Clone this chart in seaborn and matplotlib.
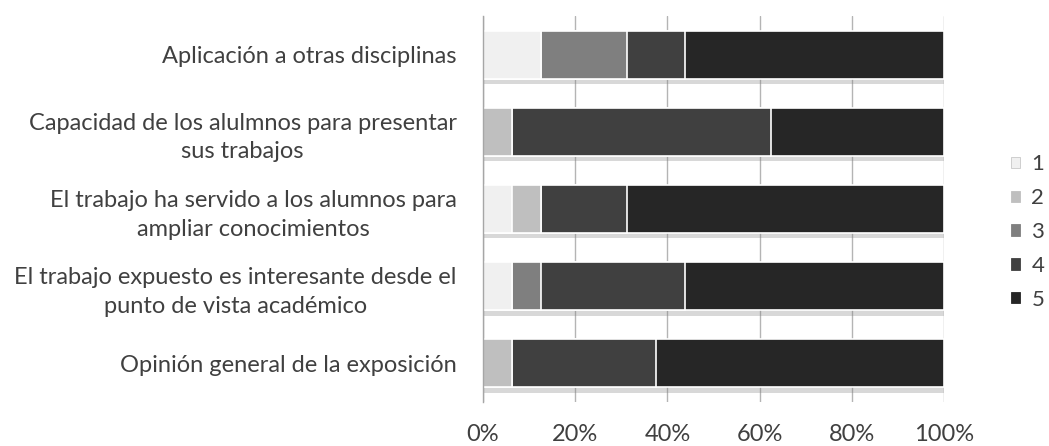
import matplotlib
matplotlib.use("Agg")
import matplotlib.pyplot as plt
import matplotlib.patheffects as pe
from matplotlib.patches import Patch
import seaborn as sns
import pandas as pd
import numpy as np

categories = [
    "Aplicación a otras disciplinas",
    "Capacidad de los alulmnos para presentar\nsus trabajos",
    "El trabajo ha servido a los alumnos para\nampliar conocimientos",
    "El trabajo expuesto es interesante desde el\npunto de vista académico",
    "Opinión general de la exposición",
]
levels = ["1", "2", "3", "4", "5"]
# percentages per level, one list per level (in category order)
val_1 = [12.5, 0.0, 6.25, 6.25, 0.0]
val_2 = [0.0, 6.25, 6.25, 0.0, 6.25]
val_3 = [18.75, 0.0, 0.0, 6.25, 0.0]
val_4 = [12.5, 56.25, 18.75, 31.25, 31.25]
val_5 = [56.25, 37.5, 68.75, 56.25, 62.5]
colors = ["#f0f0f0", "#bfbfbf", "#7f7f7f", "#404040", "#262626"]
xticks = [0, 20, 40, 60, 80, 100]
xticklabels = ["0%", "20%", "40%", "60%", "80%", "100%"]

sns.set_theme(style="white")
plt.rcParams["font.family"] = ["Lato", "DejaVu Sans"]

vals = np.array([val_1, val_2, val_3, val_4, val_5])
cum = np.cumsum(vals, axis=0)
rows = []
for li, lv in enumerate(levels):
    for ci, cat in enumerate(categories):
        rows.append({"category": cat, "level": lv, "cum": cum[li, ci]})
df = pd.DataFrame(rows)

fig = plt.figure(figsize=(10.49, 4.46), dpi=100)
ax = fig.add_axes([483 / 1049, 1 - 402 / 446, (944 - 483) / 1049, (402 - 16) / 446])

shadow = [pe.SimplePatchShadow(offset=(0, -4), shadow_rgbFace="#808080", alpha=0.3), pe.Normal()]
for li in reversed(range(len(levels))):
    sub = df[df["level"] == levels[li]]
    n_before = len(ax.patches)
    sns.barplot(data=sub, x="cum", y="category", order=categories, color=colors[li],
                orient="h", width=0.62, edgecolor="white", linewidth=1.2,
                saturation=1, ax=ax, errorbar=None)
    if li == len(levels) - 1:
        for p in ax.patches[n_before:]:
            p.set_path_effects(shadow)

ax.set_xlim(0, 100)
ax.set_ylim(4.5, -0.5)
ax.set_xticks(xticks)
ax.set_xticklabels(xticklabels)
ax.grid(axis="x", color="#b4b4b4", linewidth=1)
ax.grid(axis="y", visible=False)
ax.set_axisbelow(True)
for s in ["top", "right", "bottom"]:
    ax.spines[s].set_visible(False)
ax.spines["left"].set_color("#a6a6a6")
ax.spines["left"].set_linewidth(1)
ax.set_xlabel("")
ax.set_ylabel("")
ax.tick_params(axis="x", length=0, pad=16, labelsize=17, labelcolor="#404040")
ax.tick_params(axis="y", length=0, pad=19, labelsize=17, labelcolor="#404040")
for t in ax.get_yticklabels():
    t.set_multialignment("center")
    t.set_linespacing(1.45)

handles = [Patch(facecolor=c, edgecolor="#c8c8c8" if i == 0 else c, linewidth=0.6) for i, c in enumerate(colors)]
fig.legend(handles, levels, loc="center left", bbox_to_anchor=(1011 / 1049, 1 - 232 / 446),
           frameon=False, fontsize=16, labelcolor="#404040", handlelength=0.42, handleheight=0.42,
           handletextpad=0.5, labelspacing=0.62, borderpad=0, borderaxespad=0)

fig.savefig("out.png", dpi=100, facecolor="white")
